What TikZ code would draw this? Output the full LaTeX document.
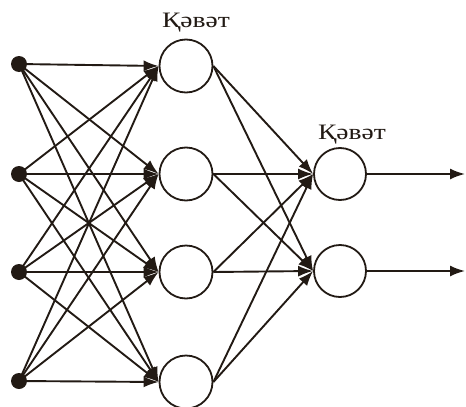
\documentclass[tikz,border=0pt]{standalone}
\usepackage{fontspec}
\setmainfont{Liberation Serif}
\newfontfamily\labelfont[FakeStretch=1.25]{Liberation Serif}
\usetikzlibrary{arrows.meta}
\definecolor{ink}{RGB}{34,26,20}
\begin{document}
\begin{tikzpicture}[x=1pt,y=-1pt,
  inputdot/.style={circle,fill=ink,inner sep=0pt,minimum size=16pt},
  neuron/.style={circle,draw=ink,line width=1.8pt,fill=white,inner sep=0pt,minimum size=53pt},
  link/.style={draw=ink,line width=1.9pt,-{Latex[length=15pt,width=11pt]}},
  layerlabel/.style={font=\labelfont\fontsize{22}{24}\selectfont,text=ink,inner sep=0pt,anchor=base}]
\useasboundingbox (0,0) rectangle (466,407);

% input points
\node[inputdot] (i1) at (19,64) {};
\node[inputdot] (i2) at (19,174) {};
\node[inputdot] (i3) at (19,272) {};
\node[inputdot] (i4) at (19,381) {};

% hidden layer
\node[neuron] (h1) at (186,66) {};
\node[neuron] (h2) at (186,174) {};
\node[neuron] (h3) at (186,272) {};
\node[neuron] (h4) at (186,382) {};

% output layer
\node[neuron,minimum size=52pt] (o1) at (340,174) {};
\node[neuron,minimum size=52pt] (o2) at (340,271) {};

\coordinate (y1) at (465,174);
\coordinate (y2) at (465,271);

% layer captions
\node[layerlabel] (t1) at (196,27) {Қәвәт};
\node[layerlabel] (t2) at (352,139) {Қәвәт};

% input -> hidden
\foreach \a in {1,...,4}
  \foreach \b in {1,...,4}
    \draw[link] (i\a.center) -- (h\b.west);

% hidden -> output
\foreach \a in {1,...,4}
  \foreach \b in {1,2}
    \draw[link] (h\a.east) -- (o\b.west);

% outputs
\draw[link] (o1.east) -- (y1);
\draw[link] (o2.east) -- (y2);
\end{tikzpicture}
\end{document}
